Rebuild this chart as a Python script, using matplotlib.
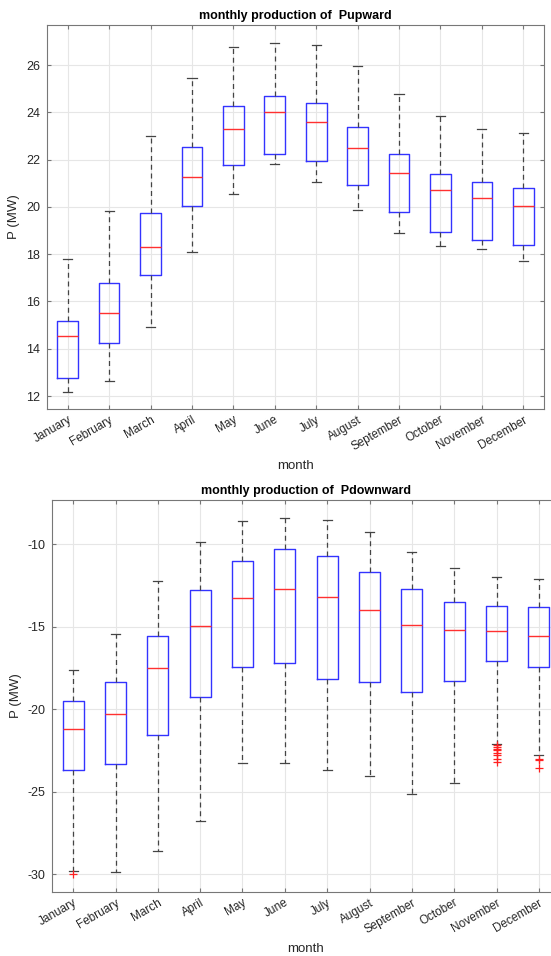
import matplotlib
matplotlib.use("Agg")
import matplotlib.pyplot as plt

plt.rcParams['font.family'] = ['Liberation Sans', 'DejaVu Sans']
plt.rcParams['axes.unicode_minus'] = False

months = ["January", "February", "March", "April", "May", "June", "July",
          "August", "September", "October", "November", "December"]

# Pupward box stats
up_lo = [12.18, 12.63, 14.93, 18.10, 20.53, 21.81, 21.05, 19.88, 18.89, 18.36, 18.20, 17.70]
up_q1 = [12.78, 14.26, 17.13, 20.02, 21.77, 22.26, 21.93, 20.95, 19.80, 18.96, 18.61, 18.37]
up_med = [14.52, 15.53, 18.32, 21.25, 23.32, 24.01, 23.59, 22.49, 21.42, 20.73, 20.39, 20.06]
up_q3 = [15.19, 16.77, 19.73, 22.55, 24.27, 24.69, 24.38, 23.39, 22.26, 21.40, 21.07, 20.81]
up_hi = [17.78, 19.84, 23.00, 25.46, 26.78, 26.94, 26.85, 25.97, 24.79, 23.83, 23.32, 23.15]

# Pdownward box stats
dn_lo = [-29.78, -29.84, -28.61, -26.77, -23.26, -23.26, -23.68, -24.05, -25.12, -24.49, -22.09, -22.75]
dn_q1 = [-23.66, -23.30, -21.58, -19.24, -17.43, -17.18, -18.15, -18.38, -18.98, -18.31, -17.08, -17.43]
dn_med = [-21.20, -20.27, -17.53, -14.94, -13.25, -12.70, -13.23, -14.02, -14.90, -15.19, -15.27, -15.59]
dn_q3 = [-19.49, -18.36, -15.55, -12.81, -11.01, -10.30, -10.75, -11.68, -12.72, -13.49, -13.73, -13.81]
dn_hi = [-17.61, -15.47, -12.26, -9.86, -8.61, -8.45, -8.55, -9.29, -10.46, -11.45, -12.00, -12.14]
dn_out = [[-29.97], [], [], [], [], [], [], [], [], [],
          [-22.15, -22.27, -22.39, -22.50, -22.66, -22.80, -23.00, -23.17],
          [-23.00, -23.10, -23.55]]


def make_stats(lo, q1, med, q3, hi, out=None):
    stats = []
    for i in range(len(lo)):
        stats.append(dict(whislo=lo[i], q1=q1[i], med=med[i], q3=q3[i],
                          whishi=hi[i], fliers=out[i] if out else []))
    return stats


def draw(ax, stats, title, ylim, yticks):
    ax.bxp(stats, positions=range(1, 13), widths=0.5, capwidths=0.22,
           boxprops=dict(color='#3333ff', linewidth=1.0),
           medianprops=dict(color='#ff3030', linewidth=1.0),
           whiskerprops=dict(color='#444444', linewidth=0.9, linestyle=(0, (4, 3))),
           capprops=dict(color='#444444', linewidth=0.9),
           flierprops=dict(marker='+', markeredgecolor='#ff2020', markersize=6,
                           markeredgewidth=0.9, linestyle='none'))
    ax.set_xlim(0.5, 12.5)
    ax.set_ylim(*ylim)
    ax.set_yticks(yticks)
    ax.set_xticks(range(1, 13))
    ax.set_xticklabels(months, rotation=30, ha='right', rotation_mode='anchor',
                       fontsize=8.5, color='#262626')
    ax.tick_params(axis='y', labelsize=9, labelcolor='#262626', pad=5)
    ax.tick_params(direction='in', top=True, right=True, length=3, color='#777777')
    ax.grid(True, color='#e6e6e6', linewidth=0.8)
    ax.set_axisbelow(True)
    for s in ax.spines.values():
        s.set_color('#777777')
    ax.set_title(title, fontsize=9, fontweight='bold', pad=4)
    ax.set_xlabel("month", fontsize=9.5, color='#262626', labelpad=5)
    ax.set_ylabel("P (MW)", fontsize=9.5, color='#262626')


fig = plt.figure(figsize=(5.51, 9.56), dpi=100)
ax1 = fig.add_axes([47 / 551, 1 - 409 / 956, 497 / 551, 384 / 956])
ax2 = fig.add_axes([52 / 551, 1 - 892 / 956, 508 / 551, 392 / 956])

draw(ax1, make_stats(up_lo, up_q1, up_med, up_q3, up_hi),
     "monthly production of  Pupward", (11.45, 27.7), [12, 14, 16, 18, 20, 22, 24, 26])
draw(ax2, make_stats(dn_lo, dn_q1, dn_med, dn_q3, dn_hi, dn_out),
     "monthly production of  Pdownward", (-31.07, -7.33), [-30, -25, -20, -15, -10])

fig.savefig("out.png", dpi=100)
